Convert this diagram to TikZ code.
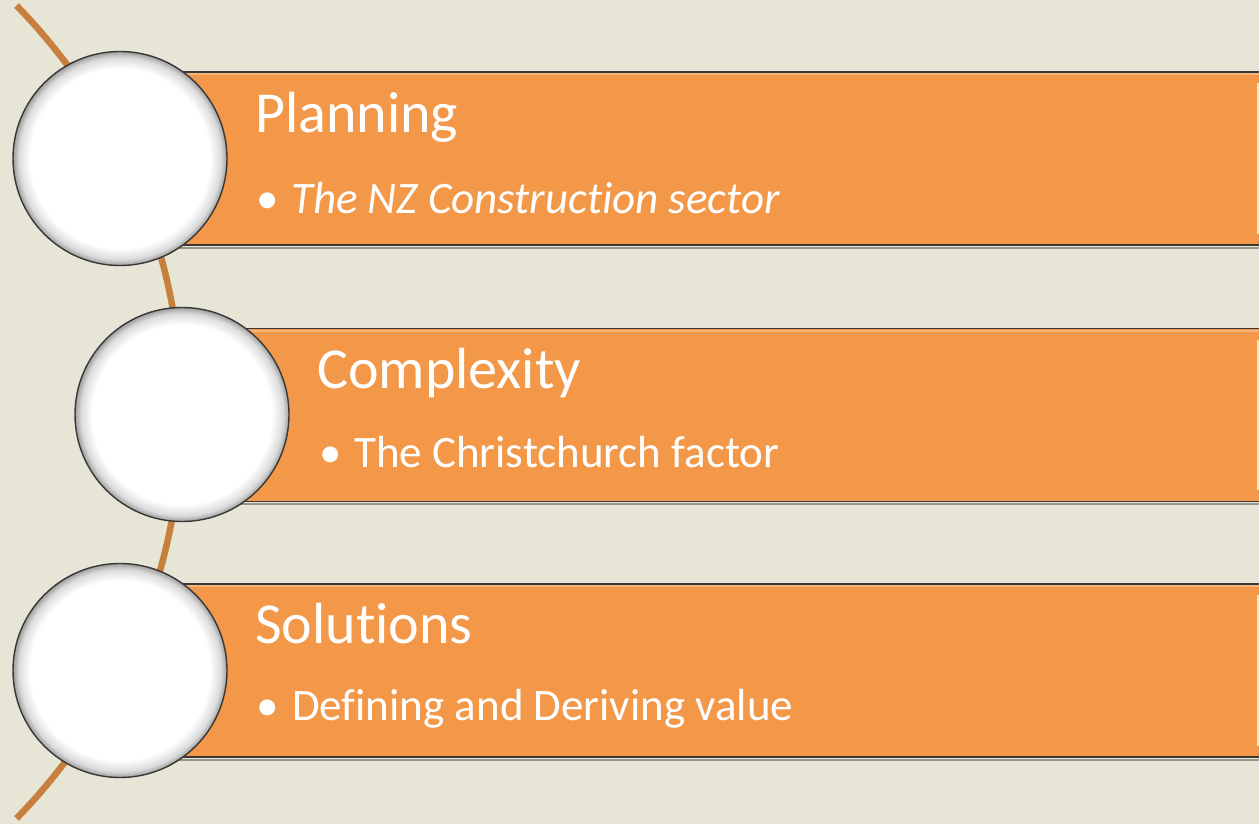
\documentclass[tikz,border=0pt]{standalone}
\usepackage{fontspec}
\setmainfont{Carlito}[Ligatures=NoCommon]
\usetikzlibrary{calc}
\definecolor{bg}{HTML}{E7E5D5}
\definecolor{barfill}{HTML}{F39848}
\definecolor{barlight}{HTML}{F7B47A}
\definecolor{arccol}{HTML}{C67F3C}
\definecolor{rim}{HTML}{383838}
\definecolor{paleedge}{HTML}{FCE7B4}
\pgfdeclareradialshading{rimball}{\pgfpoint{0bp}{0bp}}{color(0bp)=(white); color(21bp)=(white); color(23.6bp)=(black!14); color(25bp)=(black!38); color(50bp)=(black!38)}
\begin{document}
\begin{tikzpicture}[x=1pt,y=-1pt,
  barbox/.style={rectangle, fill=barfill, draw=rim, line width=1.4pt, inner sep=0pt, minimum height=173pt},
  ballnode/.style={circle, minimum size=214pt, inner sep=0pt, shading=rimball, draw=rim, line width=1.4pt},
  titletext/.style={anchor=base west, inner sep=0pt, text=white, font=\fontsize{58}{70}\selectfont},
  itemtext/.style={anchor=base west, inner sep=0pt, text=white, font=\fontsize{45}{54}\selectfont},
]
\useasboundingbox (0,0) rectangle (1259,824);
\clip (0,0) rectangle (1259,824);
\fill[bg] (0,0) rectangle (1259,824);

% spine arc
\coordinate (arccenter) at (-400,412);
\draw[arccol, line width=6.5pt] ($(arccenter)+(-44.3:582)$) arc[start angle=-44.3, end angle=44.3, radius=582];

% bars
\coordinate (rightx) at (1257.5,0);
\node[barbox, minimum width=1160pt] (bar1) at (700,158.5) {};
\node[barbox, minimum width=1100pt] (bar2) at (732,415) {};
\node[barbox, minimum width=1160pt] (bar3) at (700,670.5) {};
\foreach \b in {bar1,bar2,bar3}{
  \draw[barlight, line width=2pt] ([yshift=-3pt]\b.north west) -- ([yshift=-3pt]\b.north east);
  \draw[black, opacity=0.35, line width=2pt] ([yshift=-2pt]\b.south west) -- ([yshift=-2pt]\b.south east);
  \draw[paleedge, line width=2pt] ([yshift=-12pt]\b.north -| rightx) -- ([yshift=12pt]\b.south -| rightx);
}

% circles
\node[ballnode] (ball1) at (120,158.5) {};
\node[ballnode] (ball2) at (182,414.5) {};
\node[ballnode] (ball3) at (120,670.5) {};

% texts
\node[titletext] (t1) at (255,133) {Planning};
\node[itemtext] (b1) at (256,213) {•};
\node[itemtext] (i1) at (291,213) {\itshape The NZ Construction sector};

\node[titletext] (t2) at (317,388) {Complexity};
\node[itemtext] (b2) at (319,467) {•};
\node[itemtext] (i2) at (354,467) {The Christchurch factor};

\node[titletext] (t3) at (255,643) {Solutions};
\node[itemtext] (b3) at (256,720) {•};
\node[itemtext] (i3) at (292,720) {Defining and Deriving value};
\end{tikzpicture}
\end{document}
